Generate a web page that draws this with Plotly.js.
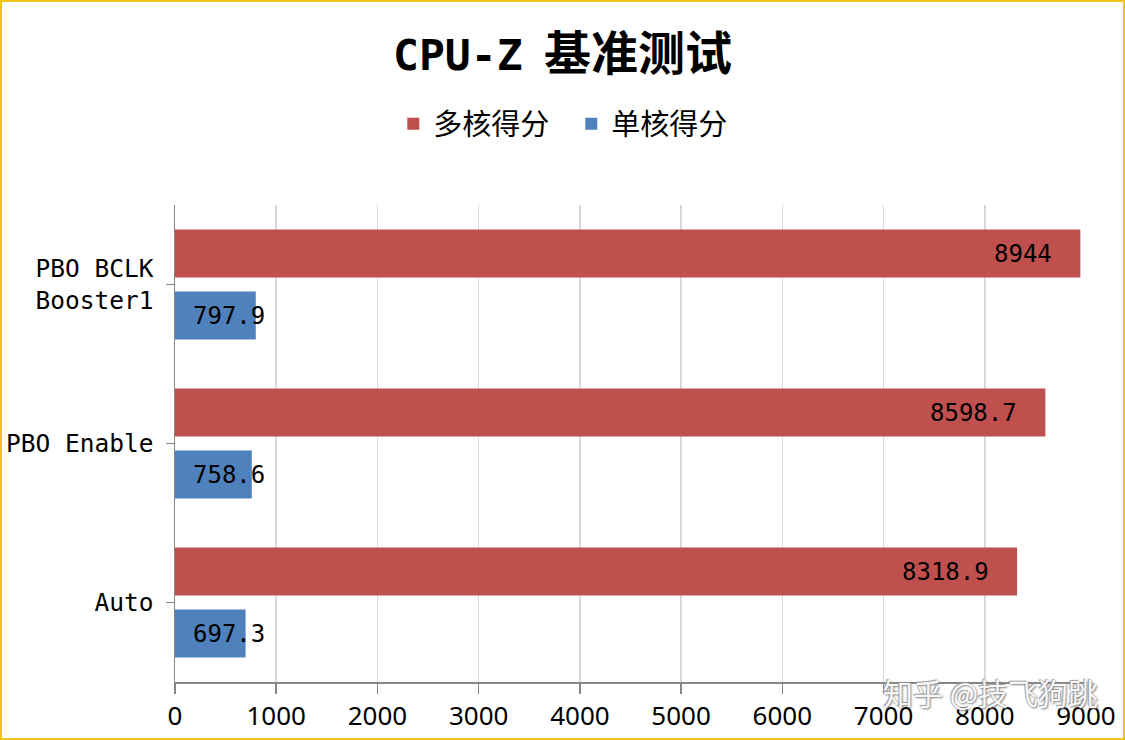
<!DOCTYPE html>
<html>
<head>
<meta charset="utf-8">
<script src="https://cdn.plot.ly/plotly-3.0.1.min.js"></script>
<style>
html,body{margin:0;padding:0;background:#fff;}
#wrap{width:1125px;height:740px;box-sizing:border-box;border:2px solid #f0c419;}
#chart{width:1121px;height:736px;}
</style>
</head>
<body>
<div id="wrap"><div id="chart"></div></div>
<script>
const categories = ["Auto", "PBO Enable", "PBO BCLK<br>Booster1"];
const multiCore = [8318.9, 8598.7, 8944];
const singleCore = [697.3, 758.6, 797.9];
const seriesNames = ["多核得分", "单核得分"];
const xTicks = [0,1000,2000,3000,4000,5000,6000,7000,8000,9000];
const titleLatin = "CPU-Z";
const titleCJK = "基准测试";
const watermark = "知乎 @技飞狗跳";

const RED = "#c0504d", BLUE = "#4f81bd";
const monoFont = "DejaVu Sans Mono, Noto Sans CJK SC, monospace";
const numFont = "Noto Sans, Noto Sans CJK SC, sans-serif";

const traces = [
  {type:"bar", orientation:"h", name:seriesNames[1], y:categories, x:singleCore,
   marker:{color:BLUE}, legendrank:2, hoverinfo:"x"},
  {type:"bar", orientation:"h", name:seriesNames[0], y:categories, x:multiCore,
   marker:{color:RED}, legendrank:1, hoverinfo:"x"}
];

const annotations = [];
categories.forEach((c,i)=>{
  annotations.push({x:multiCore[i], y:c, xref:"x", yref:"y", text:String(multiCore[i]),
    showarrow:false, xanchor:"right", xshift:-26, yshift:31,
    font:{family:monoFont, size:24, color:"#000"}});
  annotations.push({x:0, y:c, xref:"x", yref:"y", text:String(singleCore[i]),
    showarrow:false, xanchor:"left", xshift:16, yshift:-31,
    font:{family:monoFont, size:24, color:"#000"}});
});
annotations.push({xref:"paper", yref:"paper", x:1.015, y:-0.022, xanchor:"right", yanchor:"middle",
  text:watermark, showarrow:false,
  font:{family:"Noto Sans CJK SC", size:30, color:"rgba(255,255,255,0.95)", shadow:"1px 1px 2px #777, -1px -1px 1px #999"}});

const layout = {
  width:1121, height:736,
  margin:{l:173, r:37, t:203, b:56},
  paper_bgcolor:"#fff", plot_bgcolor:"#fff",
  title:{text:"<b><span style=\"font-family:'DejaVu Sans Mono';font-size:43px\">"+titleLatin+"</span>  "+titleCJK+"</b>",
    x:0.5, xanchor:"center", y:0.93, yanchor:"middle",
    font:{family:"Noto Sans CJK SC, sans-serif", size:47, color:"#000"}},
  showlegend:true,
  legend:{orientation:"h", x:0.435, xanchor:"center", y:1.17, yanchor:"middle",
    font:{family:"Noto Sans CJK SC", size:29, color:"#000"}, itemwidth:30, traceorder:"normal",
    entrywidth:133},
  barmode:"group", bargap:0.22, bargroupgap:0.226,
  xaxis:{range:[0,9000], tickvals:xTicks, ticktext:xTicks.map(String),
    showgrid:true, gridcolor:"#d9d9d9", gridwidth:1.5, zeroline:false,
    showline:true, linecolor:"#868686", linewidth:1.5,
    ticks:"outside", ticklen:10, tickcolor:"#868686", tickwidth:1.5,
    tickfont:{family:numFont, size:26, color:"#000"}, fixedrange:true},
  yaxis:{showgrid:false, zeroline:false, showline:true, linecolor:"#868686", linewidth:1.5,
    ticks:"outside", ticklen:8, tickcolor:"#868686", tickwidth:1.5,
    tickfont:{family:monoFont, size:24.5, color:"#000"}, ticklabelstandoff:7,
    categoryorder:"array", categoryarray:categories, fixedrange:true},
  annotations:annotations
};

Plotly.newPlot("chart", traces, layout, {displayModeBar:false, staticPlot:true});
</script>
</body>
</html>
